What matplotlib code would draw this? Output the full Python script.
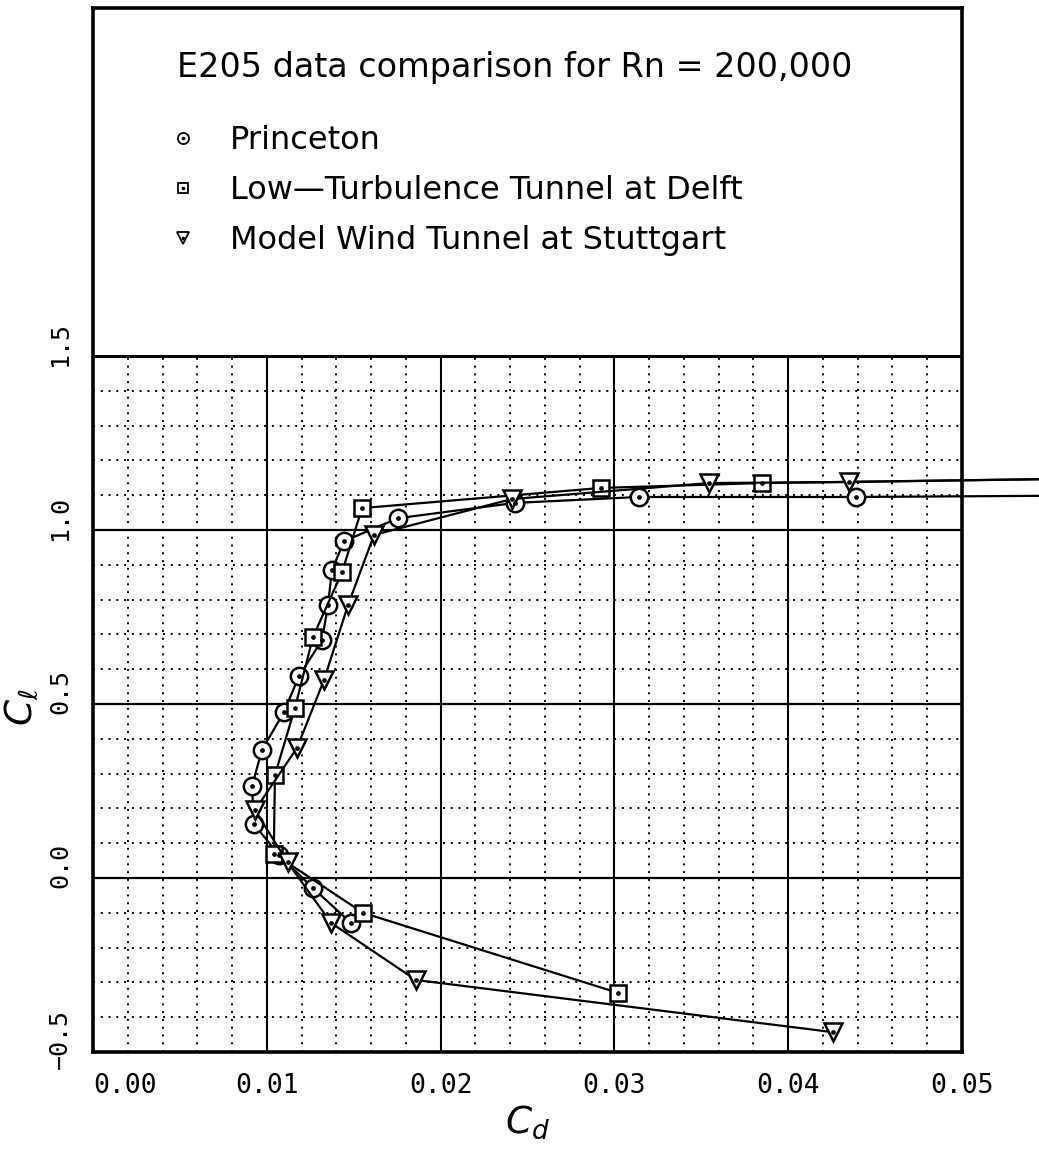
import numpy as np
import matplotlib.pyplot as plt
from matplotlib.lines import Line2D
from matplotlib.transforms import ScaledTranslation

# E205 drag polars, Rn = 200,000 (last point of each run lies past Cd = 0.05)
princeton_cd = [0.01484, 0.01266, 0.01070, 0.00926, 0.00915, 0.00972, 0.01099, 0.01185,
                0.01318, 0.01352, 0.01375, 0.01444, 0.01755, 0.02428, 0.03141, 0.04390, 0.06000]
princeton_cl = [-0.129, -0.029, 0.066, 0.155, 0.264, 0.368, 0.477, 0.580,
                0.684, 0.784, 0.885, 0.968, 1.034, 1.078, 1.095, 1.095, 1.100]

delft_cd = [0.03021, 0.01554, 0.01040, 0.01047, 0.01162, 0.01266, 0.01433, 0.01548,
            0.02923, 0.03849, 0.06000]
delft_cl = [-0.330, -0.100, 0.070, 0.296, 0.489, 0.693, 0.879, 1.063,
            1.121, 1.135, 1.150]

stuttgart_cd = [0.04258, 0.01858, 0.01370, 0.01120, 0.00932, 0.01174, 0.01329, 0.01467,
                0.01617, 0.02410, 0.03544, 0.04350, 0.06000]
stuttgart_cl = [-0.443, -0.293, -0.129, 0.045, 0.195, 0.374, 0.569, 0.784,
                0.986, 1.089, 1.135, 1.138, 1.150]

series_names = ["Princeton", "Low\u2014Turbulence Tunnel at Delft", "Model Wind Tunnel at Stuttgart"]
title_text = "E205 data comparison for Rn = 200,000"

x_ticks = [0.00, 0.01, 0.02, 0.03, 0.04, 0.05]
x_labels = ["0.00", "0.01", "0.02", "0.03", "0.04", "0.05"]
y_ticks = [-0.5, 0.0, 0.5, 1.0, 1.5]
y_labels = ["\u22120.5", "0.0", "0.5", "1.0", "1.5"]

fig = plt.figure(figsize=(10.39, 11.5), dpi=100)
ax = fig.add_axes([0.0895, 0.0852, 0.8364, 0.9078])
ax.set_xlim(0, 0.05)
ax.set_ylim(-0.5, 2.5)

for s in ax.spines.values():
    s.set_linewidth(2.6)

# grid only covers the plotting region below the legend box
x_minor = [i * 0.002 for i in range(1, 25) if i % 5]
y_minor = [-0.5 + i * 0.1 for i in range(1, 20) if i % 5]
ax.hlines(y_minor, 0, 0.05, colors="black", linestyles=[(0, (1, 3))], lw=1.4, zorder=1)
ax.vlines(x_minor, -0.5, 1.5, colors="black", linestyles=[(0, (1, 3))], lw=1.4, zorder=1)
ax.hlines(y_ticks[1:-1], 0, 0.05, colors="black", lw=1.6, zorder=1)
ax.hlines(y_ticks[-1], 0, 0.05, colors="black", lw=2.2, zorder=1)
ax.vlines(x_ticks[1:-1], -0.5, 1.5, colors="black", lw=1.5, zorder=1)


def polar(cd, cl, marker, ms):
    ax.plot(cd, cl, color="black", lw=1.6, marker=marker, ms=ms, mfc="white",
            mec="black", mew=1.8, clip_on=False, zorder=3)
    ax.plot(cd, cl, ls="none", marker="o", ms=2.4, color="black", zorder=4)


polar(princeton_cd, princeton_cl, "o", 12.5)
polar(delft_cd, delft_cl, "s", 11)
polar(stuttgart_cd, stuttgart_cl, "v", 12.5)

# ticks
ax.set_xticks(x_ticks)
ax.set_xticklabels(x_labels, family="DejaVu Sans Mono", fontsize=19)
ax.set_yticks(y_ticks)
ax.set_yticklabels(y_labels, family="DejaVu Sans Mono", fontsize=18, rotation=90, va="center")
ax.tick_params(axis="both", length=0)
ax.tick_params(axis="x", pad=15)
ax.tick_params(axis="y", pad=15)
ax.get_xticklabels()[0].set_ha("left")
shift = ScaledTranslation(0, 0.13, fig.dpi_scale_trans)
for lab in ax.get_yticklabels():
    lab.set_transform(lab.get_transform() + shift)

ax.set_xlabel(r"$C_d$", fontsize=27)
ax.xaxis.set_label_coords(0.5, -0.049)
ax.set_ylabel(r"$C_\ell$", fontsize=27)
ax.yaxis.set_label_coords(-0.061, 0.330)

# legend box
ax.text(0.0967, 0.9435, title_text, transform=ax.transAxes, fontsize=24, va="center", ha="left")

handles = []
for m, ms in [("o", 8), ("s", 7.5), ("v", 8.5)]:
    mark = Line2D([], [], ls="none", marker=m, ms=ms, mfc="white", mec="black", mew=1.3)
    dot = Line2D([], [], ls="none", marker="o", ms=1.6, color="black")
    handles.append((mark, dot))
ax.legend(handles, series_names, loc="upper left", bbox_to_anchor=(0.093, 0.888),
          frameon=False, fontsize=23, handlelength=0.55, handletextpad=1.2,
          labelspacing=0.6, borderaxespad=0, borderpad=0)

fig.savefig("out.png", dpi=100)
